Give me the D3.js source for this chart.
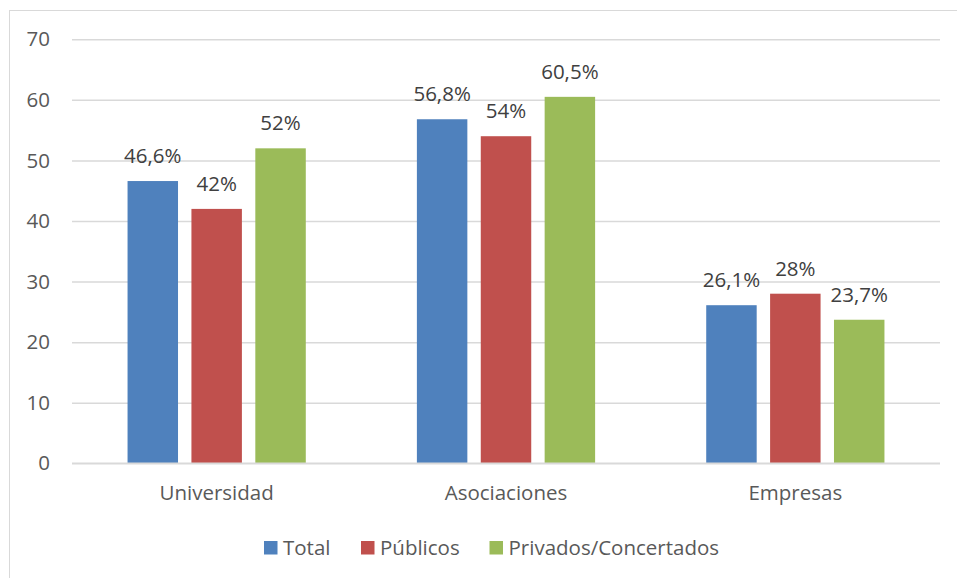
<!DOCTYPE html>
<html><head><meta charset="utf-8">
<script src="https://cdn.jsdelivr.net/npm/d3@7"></script>
<style>body{margin:0;background:#fff}svg{display:block}text{font-family:"Open Sans",sans-serif}</style>
</head><body>
<svg id="c" width="957" height="578"></svg>
<script>
const categories = ["Universidad", "Asociaciones", "Empresas"];
const seriesNames = ["Total", "Públicos", "Privados/Concertados"];
const total = [46.6, 56.8, 26.1];
const publicos = [42, 54, 28];
const privados = [52, 60.5, 23.7];
const yTicks = [0, 10, 20, 30, 40, 50, 60, 70];
const colors = ["#4f81bd", "#c0504d", "#9bbb59"];
const seriesValues = [total, publicos, privados];

(function () {
const FS = 20.5;
const svg = d3.select("#c");
svg.append("rect").attr("x", 9.5).attr("y", 10.5).attr("width", 960).attr("height", 580)
  .attr("fill", "none").attr("stroke", "#d9d9d9").attr("stroke-width", 1);

const mLeft = 72, mRight = 940, mTop = 39.3, mBottom = 463.3;
const y = d3.scaleLinear().domain([0, 70]).range([mBottom, mTop]);
const x0 = d3.scaleBand().domain(categories).range([mLeft, mRight]).padding(0);
const bw = x0.bandwidth();
const x1 = d3.scaleBand().domain(seriesNames).range([bw * 0.192, bw * 0.808]).paddingInner(0.21).paddingOuter(0);

const yAxis = d3.axisLeft(y).tickValues(yTicks).tickSize(-(mRight - mLeft)).tickFormat(d3.format("d"));
const ga = svg.append("g").attr("transform", `translate(${mLeft},0)`).call(yAxis);
ga.select(".domain").remove();
ga.attr("font-size", FS).attr("font-family", "Open Sans");
ga.selectAll(".tick line").attr("stroke", "#d9d9d9").attr("stroke-width", 1.5);
ga.selectAll(".tick text").attr("fill", "#595959").attr("font-size", FS).attr("x", -22);

const data = [];
categories.forEach((c, i) => seriesNames.forEach((s, j) => data.push({c, s, j, v: seriesValues[j][i]})));

svg.append("g").selectAll("rect").data(data).join("rect")
  .attr("x", d => x0(d.c) + x1(d.s)).attr("width", x1.bandwidth())
  .attr("y", d => y(d.v)).attr("height", d => y(0) - y(d.v))
  .attr("fill", d => colors[d.j]);

svg.append("line").attr("x1", mLeft).attr("x2", mRight).attr("y1", y(0)).attr("y2", y(0))
  .attr("stroke", "#d9d9d9").attr("stroke-width", 1.5);

const fmt = v => String(v).replace(".", ",") + "%";
svg.append("g").selectAll("text").data(data).join("text")
  .attr("x", d => x0(d.c) + x1(d.s) + x1.bandwidth() / 2)
  .attr("y", d => y(d.v) - 18)
  .attr("text-anchor", "middle").attr("font-size", FS).attr("fill", "#404040")
  .text(d => fmt(d.v));

svg.append("g").selectAll("text").data(categories).join("text")
  .attr("x", d => x0(d) + bw / 2).attr("y", 500)
  .attr("text-anchor", "middle").attr("font-size", FS).attr("fill", "#595959")
  .text(d => d);

const legX = [264, 361, 489.5];
const lg = svg.append("g").selectAll("g").data(seriesNames).join("g")
  .attr("transform", (d, i) => `translate(${legX[i]},541)`);
lg.append("rect").attr("width", 13.5).attr("height", 13.5).attr("fill", (d, i) => colors[i]);
lg.append("text").attr("x", 19).attr("y", 14).attr("font-size", FS).attr("fill", "#595959").text(d => d);
})();
</script>
</body></html>
